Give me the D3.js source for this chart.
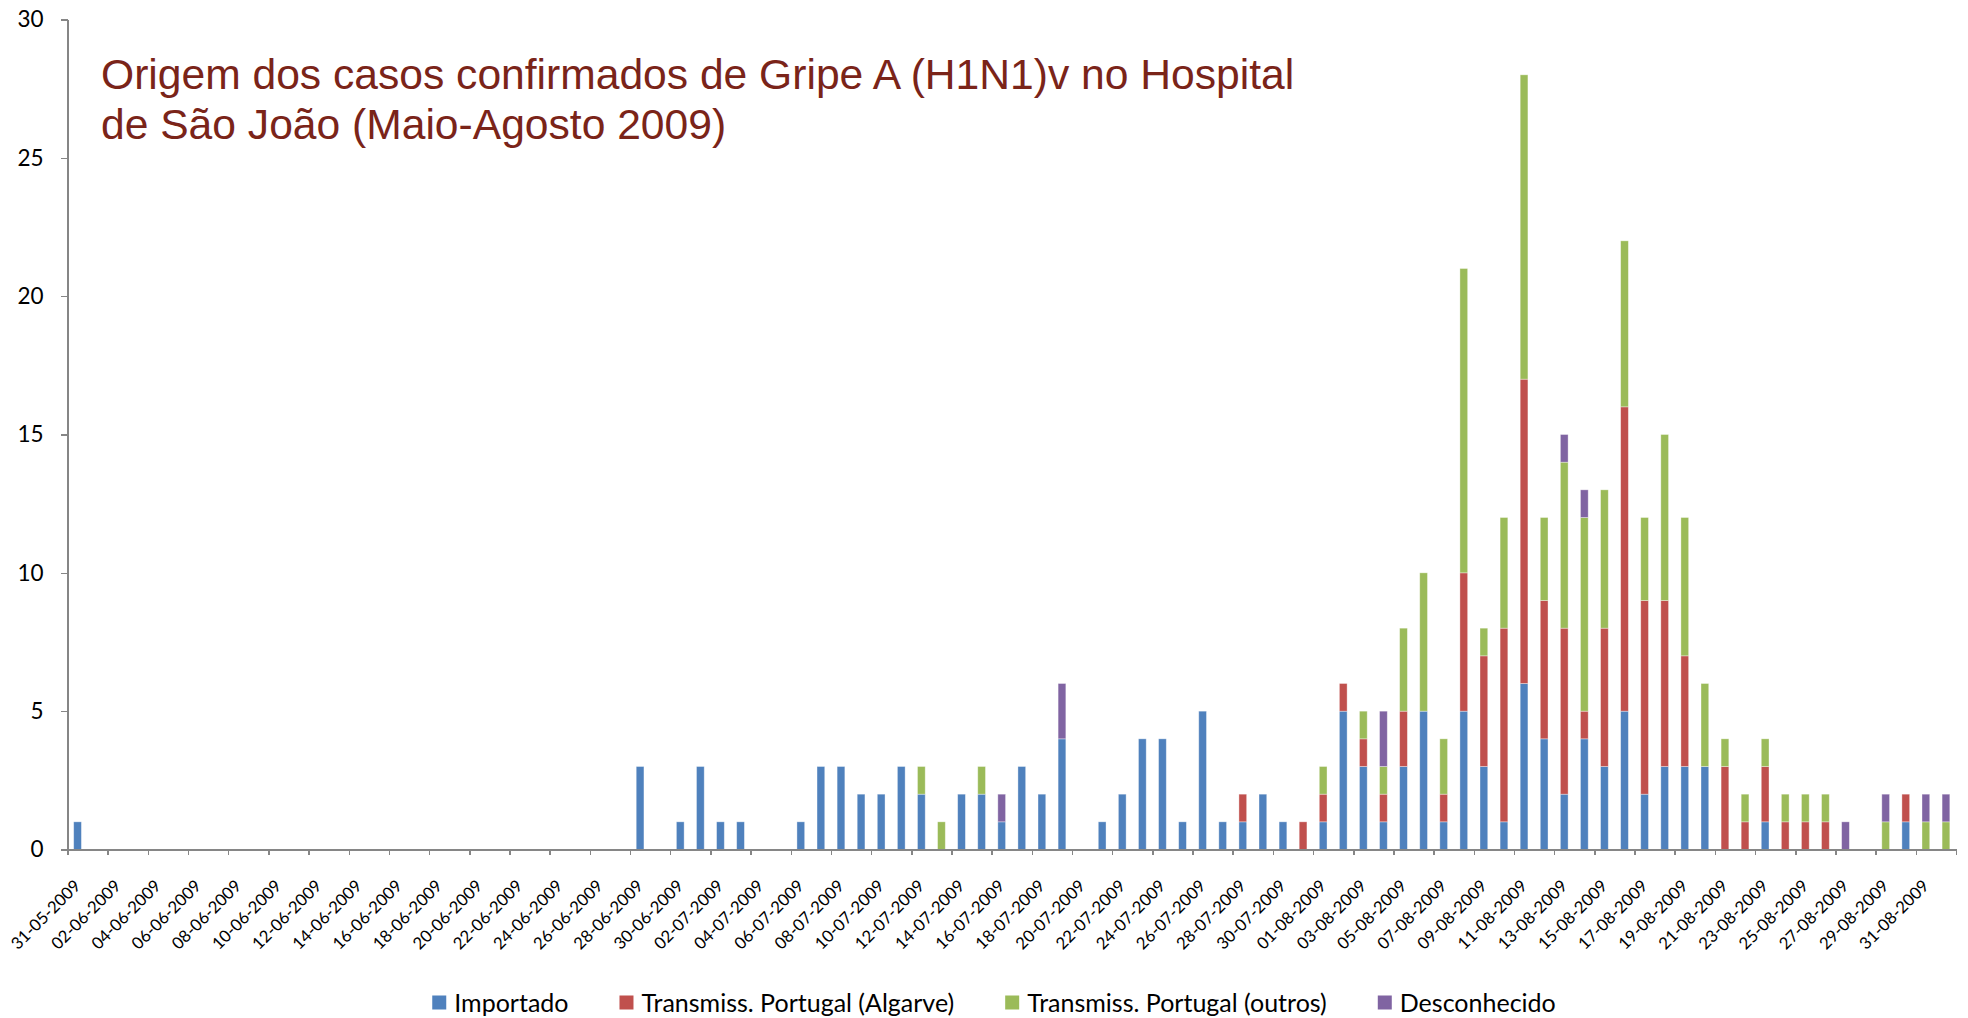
<!DOCTYPE html>
<html>
<head>
<meta charset="utf-8">
<script src="https://cdn.jsdelivr.net/npm/d3@7"></script>
<style>
  body { margin: 0; background: #fff; }
  svg { display: block; }
  .axis path, .axis line { stroke: #868686; stroke-width: 1.5; shape-rendering: crispEdges; }
</style>
</head>
<body>
<div class="wrapper"></div>
<script>
// dates 31-05-2009 .. 01-09-2009 (one per day)
var dates = [
  "31-05-2009",
  "01-06-2009","02-06-2009","03-06-2009","04-06-2009","05-06-2009","06-06-2009","07-06-2009","08-06-2009","09-06-2009","10-06-2009",
  "11-06-2009","12-06-2009","13-06-2009","14-06-2009","15-06-2009","16-06-2009","17-06-2009","18-06-2009","19-06-2009","20-06-2009",
  "21-06-2009","22-06-2009","23-06-2009","24-06-2009","25-06-2009","26-06-2009","27-06-2009","28-06-2009","29-06-2009","30-06-2009",
  "01-07-2009","02-07-2009","03-07-2009","04-07-2009","05-07-2009","06-07-2009","07-07-2009","08-07-2009","09-07-2009","10-07-2009",
  "11-07-2009","12-07-2009","13-07-2009","14-07-2009","15-07-2009","16-07-2009","17-07-2009","18-07-2009","19-07-2009","20-07-2009",
  "21-07-2009","22-07-2009","23-07-2009","24-07-2009","25-07-2009","26-07-2009","27-07-2009","28-07-2009","29-07-2009","30-07-2009",
  "31-07-2009",
  "01-08-2009","02-08-2009","03-08-2009","04-08-2009","05-08-2009","06-08-2009","07-08-2009","08-08-2009","09-08-2009","10-08-2009",
  "11-08-2009","12-08-2009","13-08-2009","14-08-2009","15-08-2009","16-08-2009","17-08-2009","18-08-2009","19-08-2009","20-08-2009",
  "21-08-2009","22-08-2009","23-08-2009","24-08-2009","25-08-2009","26-08-2009","27-08-2009","28-08-2009","29-08-2009","30-08-2009",
  "31-08-2009",
  "01-09-2009"
];

var importado = [
  1,
  0,0,0,0,0,0,0,0,0,0, 0,0,0,0,0,0,0,0,0,0, 0,0,0,0,0,0,0,3,0,1,
  3,1,1,0,0,1,3,3,2,2, 3,2,0,2,2,1,3,2,4,0, 1,2,4,4,1,5,1,1,2,1, 0,
  1,5,3,1,3,5,1,5,3,1, 6,4,2,4,3,5,2,3,3,3, 0,0,1,0,0,0,0,0,0,1, 0,
  0
];
var algarve = [
  0,
  0,0,0,0,0,0,0,0,0,0, 0,0,0,0,0,0,0,0,0,0, 0,0,0,0,0,0,0,0,0,0,
  0,0,0,0,0,0,0,0,0,0, 0,0,0,0,0,0,0,0,0,0, 0,0,0,0,0,0,0,1,0,0, 1,
  1,1,1,1,2,0,1,5,4,7, 11,5,6,1,5,11,7,6,4,0, 3,1,2,1,1,1,0,0,0,1, 0,
  0
];
var outros = [
  0,
  0,0,0,0,0,0,0,0,0,0, 0,0,0,0,0,0,0,0,0,0, 0,0,0,0,0,0,0,0,0,0,
  0,0,0,0,0,0,0,0,0,0, 0,1,1,0,1,0,0,0,0,0, 0,0,0,0,0,0,0,0,0,0, 0,
  1,0,1,1,3,5,2,11,1,4, 11,3,6,7,5,6,3,6,5,3, 1,1,1,1,1,1,0,0,1,0, 1,
  1
];
var desconhecido = [
  0,
  0,0,0,0,0,0,0,0,0,0, 0,0,0,0,0,0,0,0,0,0, 0,0,0,0,0,0,0,0,0,0,
  0,0,0,0,0,0,0,0,0,0, 0,0,0,0,0,1,0,0,2,0, 0,0,0,0,0,0,0,0,0,0, 0,
  0,0,0,2,0,0,0,0,0,0, 0,0,1,1,0,0,0,0,0,0, 0,0,0,0,0,0,1,0,1,0, 1,
  1
];

var seriesNames = ["Importado", "Transmiss. Portugal (Algarve)", "Transmiss. Portugal (outros)", "Desconhecido"];
var seriesColors = ["#4F81BD", "#C0504D", "#9BBB59", "#8064A2"];
var yTicks = [0, 5, 10, 15, 20, 25, 30];
var title = ["Origem dos casos confirmados de Gripe A (H1N1)v no Hospital", "de São João (Maio-Agosto 2009)"];

var w = 1968, h = 1018;
var plotLeft = 67.5, plotRight = 1956, plotTop = 19.5, plotBottom = 849.5;

var rows = dates.map(function(d, i) {
  return { date: d, s0: importado[i], s1: algarve[i], s2: outros[i], s3: desconhecido[i] };
});
var keys = ["s0", "s1", "s2", "s3"];
var stacked = d3.stack().keys(keys)(rows);

var svg = d3.select(".wrapper").append("svg")
    .attr("width", w)
    .attr("height", h);

// band: bar ~38% of the step, centred
var x = d3.scaleBand().domain(dates).range([plotLeft, plotRight])
    .paddingInner(0.615).paddingOuter(0.3075);
var xi = d3.scaleLinear().domain([0, dates.length]).range([plotLeft, plotRight]);
var y = d3.scaleLinear().domain([0, 30]).range([plotBottom, plotTop]);

svg.append("g").selectAll("g")
    .data(stacked)
  .enter().append("g")
    .attr("fill", function(d, i) { return seriesColors[i]; })
  .selectAll("rect")
    .data(function(d) { return d.filter(function(v) { return v[1] > v[0]; }); })
  .enter().append("rect")
    .attr("x", function(d) { return x(d.data.date); })
    .attr("width", x.bandwidth())
    .attr("y", function(d) { return y(d[1]); })
    .attr("height", function(d) { return y(d[0]) - y(d[1]); })
    .attr("stroke", "#fff")
    .attr("stroke-opacity", 0.45)
    .attr("stroke-width", 0.8);

// y axis
var ya = svg.append("g").attr("class", "axis")
    .attr("transform", "translate(" + plotLeft + ",0)")
    .call(d3.axisLeft(y).tickValues(yTicks).tickSize(7).tickPadding(17).tickSizeOuter(0));
ya.selectAll("text")
    .attr("font-family", "Lato, sans-serif")
    .attr("font-size", 22.5)
    .attr("fill", "#000");

// x axis: tick marks between every second category
svg.append("g").attr("class", "axis")
    .attr("transform", "translate(0," + plotBottom + ")")
    .call(d3.axisBottom(xi).tickValues(d3.range(0, dates.length + 1, 2)).tickSize(5).tickSizeOuter(0).tickFormat(""));

// x labels, every second date, rotated
var xa = svg.append("g")
    .attr("transform", "translate(0," + plotBottom + ")")
    .call(d3.axisBottom(x).tickValues(dates.filter(function(d, i) { return i % 2 === 0; })).tickSize(0));
xa.select(".domain").remove();
xa.selectAll("text")
    .attr("font-family", "Lato, sans-serif")
    .attr("font-size", 16.7)
    .attr("fill", "#000")
    .attr("text-anchor", "end")
    .attr("y", 0)
    .attr("dy", "0.72em")
    .attr("transform", "translate(-4.5,29) rotate(-45)");

// title
var t = svg.append("text")
    .attr("font-family", "'Liberation Sans', Arial, sans-serif")
    .attr("font-size", 42.6)
    .attr("fill", "#7A2419");
t.selectAll("tspan")
    .data(title)
  .enter().append("tspan")
    .attr("x", 101)
    .attr("y", function(d, i) { return 89 + i * 50; })
    .text(function(d) { return d; });

// legend
var lg = svg.append("g");
var cursor = 0;
seriesNames.forEach(function(name, i) {
  var item = lg.append("g").attr("transform", "translate(" + cursor + ",0)");
  item.append("rect")
      .attr("x", 0).attr("y", -7)
      .attr("width", 14).attr("height", 14)
      .attr("fill", seriesColors[i]);
  var txt = item.append("text")
      .attr("x", 22).attr("y", 9)
      .attr("font-family", "Lato, sans-serif")
      .attr("font-size", 25)
      .attr("fill", "#000")
      .text(name);
  cursor += 22 + txt.node().getComputedTextLength() + 51;
});
var lgWidth = cursor - 51;
lg.attr("transform", "translate(" + (994 - lgWidth / 2) + ",1002.5)");
</script>
</body>
</html>
